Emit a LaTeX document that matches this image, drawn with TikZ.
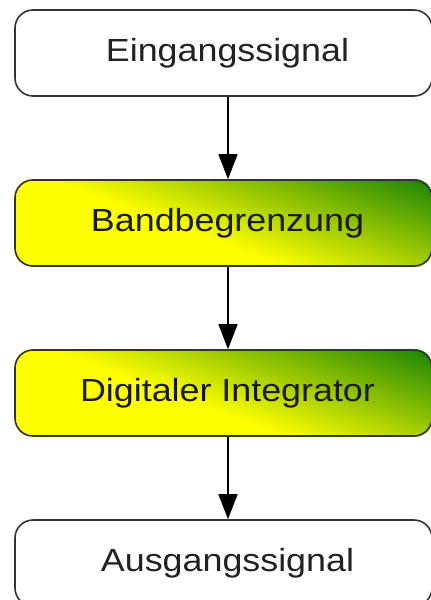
\documentclass[tikz,border=0pt]{standalone}
\usepackage{fontspec}
\newfontfamily\boxfont[FakeStretch=1.12]{Liberation Sans}
\usetikzlibrary{arrows.meta}
\pgfdeclarelayer{background}
\pgfsetlayers{background,main}
\definecolor{framegray}{HTML}{333333}
\definecolor{labelgray}{HTML}{222222}
\definecolor{labeldark}{HTML}{1A1A05}
\definecolor{fadeyellow}{RGB}{255,255,0}
\definecolor{fadegreen}{RGB}{25,130,5}
\tikzset{
  stage/.style={draw=framegray, line width=1.6pt, rounded corners=18pt,
    minimum width=417pt, minimum height=86pt, inner sep=0pt,
    font=\boxfont\fontsize{32}{38}\selectfont, text=labelgray},
  plain/.style={stage, fill=white},
  filtered/.style={stage, text=labeldark},
  flow/.style={line width=1.4pt, -{Triangle[width=19pt,length=25pt]}},
}
\newcommand\steptext[1]{\hspace*{8pt}#1}
% yellow rising into green towards the upper right corner, built from thin bands
\newcommand\greenfade[1]{%
  \begin{pgfonlayer}{background}
    \begin{scope}
      \clip[rounded corners=18pt] (#1.south west) rectangle (#1.north east);
      \fill[fadeyellow] (#1.south west) rectangle (#1.north east);
      \begin{scope}[shift={(#1.center)}, rotate=-20.35]
        \fill[fadegreen] (-300,-300) -- (300,-300) -- (300,-114.2) -- (-300,-114.2) -- cycle;
        \foreach \i in {0,...,39}{
          \pgfmathsetmacro\ylo{20.2-3.36*\i}
          \pgfmathsetmacro\yhi{\ylo-3.9}
          \pgfmathsetmacro\mixp{(\i+0.5)*2.5}
          \fill[fadegreen!\mixp!fadeyellow] (-300,\yhi) -- (300,\yhi) -- (300,\ylo) -- (-300,\ylo) -- cycle;
        }
      \end{scope}
    \end{scope}
  \end{pgfonlayer}}
\begin{document}
\begin{tikzpicture}[x=1pt,y=-1pt]
\useasboundingbox (0,0) rectangle (431,600);
\clip (0,0) rectangle (431,600);
\node[plain]    (in)    at (223.5,53)  {\steptext{Eingangssignal}};
\node[filtered] (band)  at (223.5,223) {\steptext{Bandbegrenzung}};
\node[filtered] (integ) at (223.5,393) {\steptext{Digitaler Integrator}};
\node[plain]    (out)   at (223.5,563) {\steptext{Ausgangssignal}};
\greenfade{band}
\greenfade{integ}
\draw[flow] ([xshift=4.5pt]in.south) -- ([xshift=4.5pt]band.north);
\draw[flow] ([xshift=4.5pt]band.south) -- ([xshift=4.5pt]integ.north);
\draw[flow] ([xshift=4.5pt]integ.south) -- ([xshift=4.5pt]out.north);
\end{tikzpicture}
\end{document}
